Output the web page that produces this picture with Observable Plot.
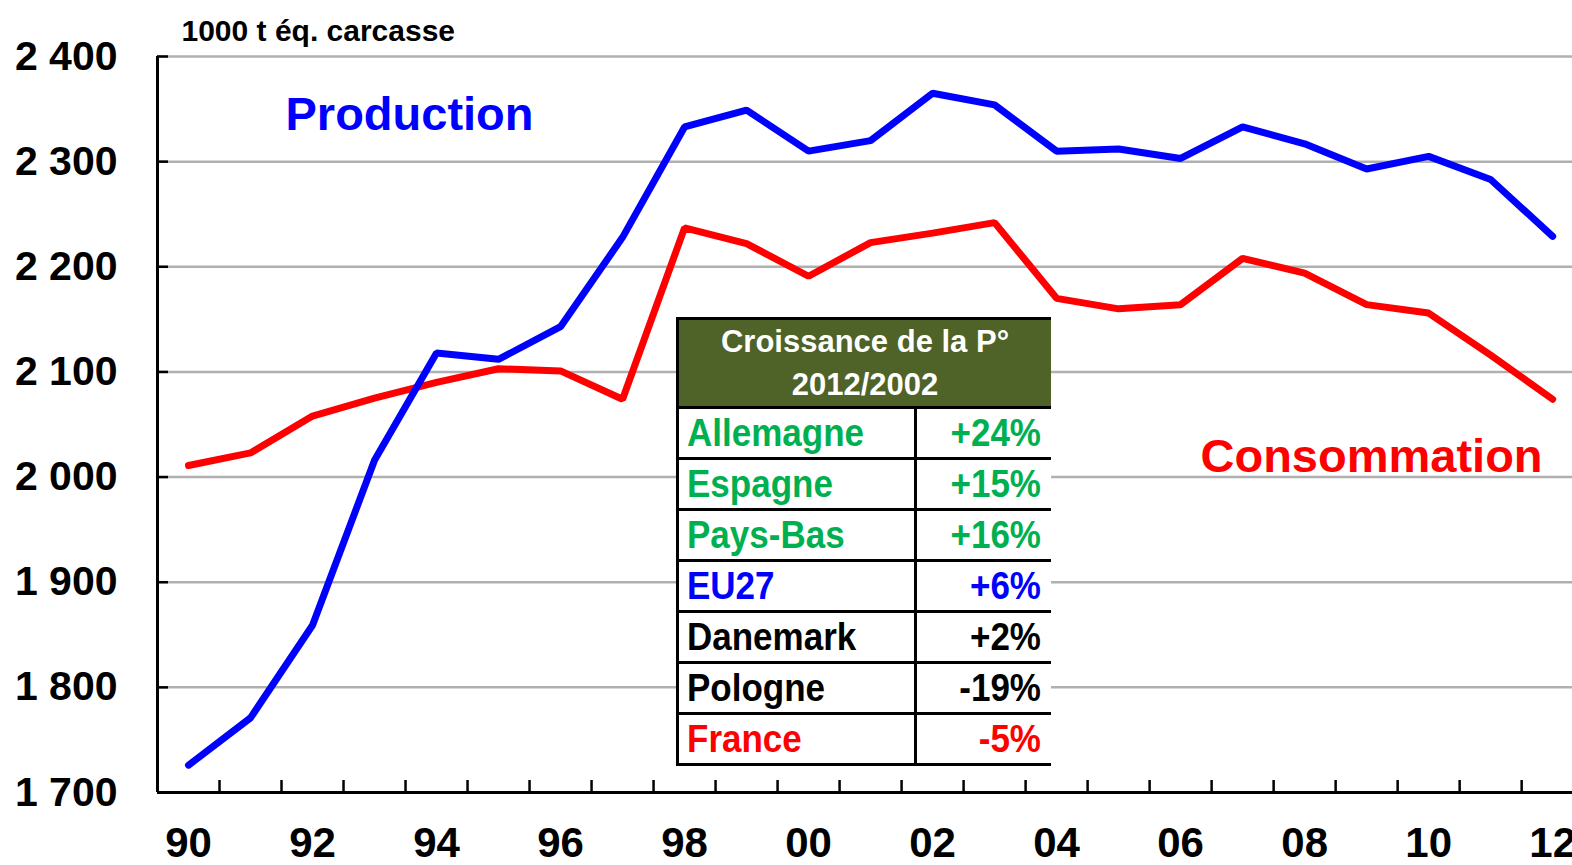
<!DOCTYPE html>
<html>
<head>
<meta charset="utf-8">
<script src="https://cdn.jsdelivr.net/npm/d3@7"></script>
<script src="https://cdn.jsdelivr.net/npm/@observablehq/plot@0.6"></script>
<style>
  html, body { margin: 0; padding: 0; background: #fff; }
  #wrap { position: relative; width: 1572px; height: 865px; overflow: hidden; font-family: "Liberation Sans", Arial, Helvetica, sans-serif; font-weight: bold; }
  #tbl { position: absolute; left: 676px; top: 317px; width: 375px; display: grid; grid-template-columns: 235px 134px; gap: 3px; padding: 3px; background: #000; box-sizing: border-box; }
  #tbl .hd { grid-column: 1 / span 2; background: #4F6228; color: #fff; text-align: center; font-size: 31px; line-height: 43px; height: 86px; }
  #tbl .c { background: #fff; height: 48px; font-size: 35px; line-height: 48px; white-space: nowrap; }
  #tbl .l { padding-left: 8px; }
  #tbl .r { text-align: right; padding-right: 10px; }
  #tbl span { display: inline-block; transform: scaleY(1.1); }
</style>
</head>
<body>
<div id="wrap"></div>
<script>
// ---- data ----
const years = [1990,1991,1992,1993,1994,1995,1996,1997,1998,1999,2000,2001,2002,2003,2004,2005,2006,2007,2008,2009,2010,2011,2012];
const production   = [1726,1771,1859,2016,2118,2112,2143,2228,2333,2349,2310,2320,2365,2354,2310,2312,2303,2333,2317,2293,2305,2283,2229];
const consommation = [2011,2023,2058,2075,2090,2103,2101,2074,2237,2222,2191,2223,2232,2242,2170,2160,2164,2208,2194,2164,2156,2116,2074];
const yTicks = [1700,1800,1900,2000,2100,2200,2300,2400];
const xLabelYears = [1990,1992,1994,1996,1998,2000,2002,2004,2006,2008,2010,2012];
const tableTitle = ["Croissance de la P°", "2012/2002"];
const tableCountries = ["Allemagne","Espagne","Pays-Bas","EU27","Danemark","Pologne","France"];
const tableGrowth = ["+24%","+15%","+16%","+6%","+2%","-19%","-5%"];
const unitLabel = "1000 t éq. carcasse";

// ---- build ----
const rowsP = years.map((y, i) => ({year: y, value: production[i]}));
const rowsC = years.map((y, i) => ({year: y, value: consommation[i]}));
const tickBounds = years.slice(0, -1).map(y => y + 0.5);
const xMin = years[0] - 0.5;
const xMax = years[years.length - 1] + 0.32;
const font = "Liberation Sans, Arial, Helvetica, sans-serif";

const chart = Plot.plot({
  width: 1572,
  height: 865,
  marginLeft: 157,
  marginRight: 0,
  marginTop: 56,
  marginBottom: 73,
  style: {fontFamily: font, fontWeight: "bold", background: "#fff", overflow: "visible", color: "#000"},
  x: {domain: [xMin, xMax], axis: null, label: null},
  y: {domain: [1700, 2400], axis: null, label: null},
  marks: [
    Plot.gridY(yTicks.slice(1), {stroke: "#b0b0b0", strokeWidth: 2.5, strokeOpacity: 1}),
    Plot.axisY(yTicks, {anchor: "left", label: null, tickSize: 0, tickPadding: 40, fontSize: 41, fontWeight: "bold",
      tickFormat: d => d3.format(",")(d).replace(",", " ")}),
    Plot.axisY(yTicks, {anchor: "left", label: null, tickSize: -11, strokeWidth: 2.5, tickFormat: () => ""}),
    Plot.axisX(tickBounds, {anchor: "bottom", label: null, tickSize: -12, strokeWidth: 2.5, tickFormat: () => ""}),
    Plot.axisX(xLabelYears, {anchor: "bottom", label: null, tickSize: 0, tickPadding: 35, fontSize: 42, fontWeight: "bold",
      tickFormat: d => String(d % 100).padStart(2, "0")}),
    Plot.ruleY([1700], {stroke: "#000", strokeWidth: 3}),
    Plot.ruleX([xMin], {stroke: "#000", strokeWidth: 3}),
    Plot.line(rowsC, {x: "year", y: "value", stroke: "#ff0000", strokeWidth: 7, strokeLinecap: "round", strokeLinejoin: "miter"}),
    Plot.line(rowsP, {x: "year", y: "value", stroke: "#0000ff", strokeWidth: 7, strokeLinecap: "round", strokeLinejoin: "miter"}),
    Plot.text([unitLabel], {frameAnchor: "top-left", dx: 24, dy: -37, textAnchor: "start", fontSize: 30, fontWeight: "bold", fill: "#000"}),
    Plot.text(["Production"], {frameAnchor: "top-left", dx: 128, dy: 40, textAnchor: "start", fontSize: 47, fontWeight: "bold", fill: "#0000ff"}),
    Plot.text(["Consommation"], {frameAnchor: "top-left", dx: 1043, dy: 382, textAnchor: "start", fontSize: 47, fontWeight: "bold", fill: "#ff0000"})
  ]
});

const wrap = document.getElementById("wrap");
wrap.appendChild(chart);

// ---- table ----
const rowColors = {"Allemagne": "#00B050", "Espagne": "#00B050", "Pays-Bas": "#00B050", "EU27": "#0000FF", "Danemark": "#000", "Pologne": "#000", "France": "#FF0000"};
const tbl = document.createElement("div");
tbl.id = "tbl";
const hd = document.createElement("div");
hd.className = "hd";
hd.innerHTML = tableTitle.map(t => `<div>${t}</div>`).join("");
tbl.appendChild(hd);
tableCountries.forEach((c, i) => {
  const a = document.createElement("div");
  a.className = "c l";
  a.style.color = rowColors[c];
  a.innerHTML = `<span>${c}</span>`;
  const b = document.createElement("div");
  b.className = "c r";
  b.style.color = rowColors[c];
  b.innerHTML = `<span>${tableGrowth[i]}</span>`;
  tbl.appendChild(a);
  tbl.appendChild(b);
});
wrap.appendChild(tbl);
</script>
</body>
</html>
